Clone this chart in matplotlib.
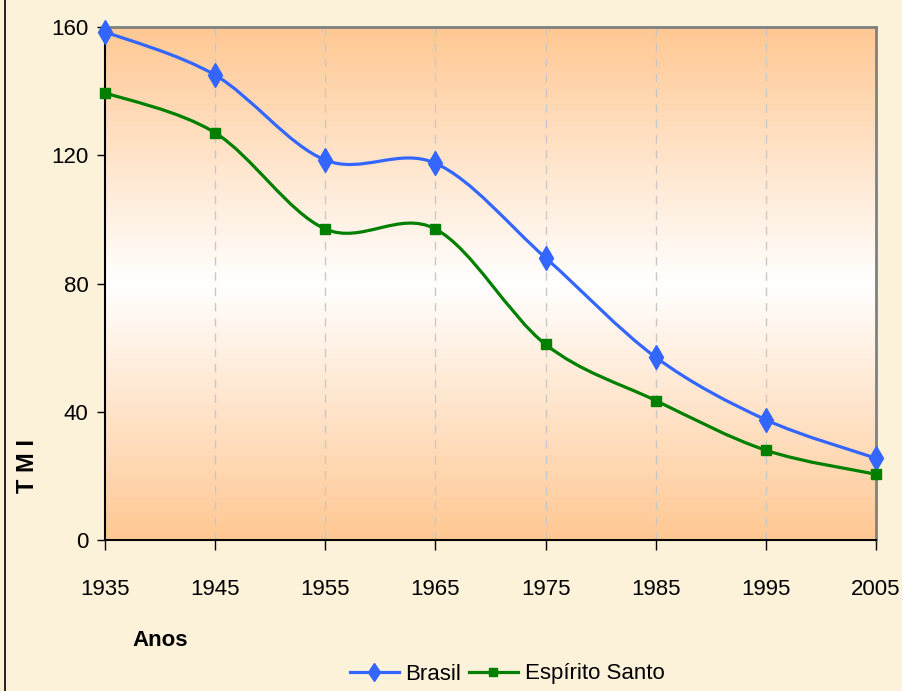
import numpy as np
import matplotlib
matplotlib.use("Agg")
import matplotlib.pyplot as plt
from matplotlib.path import Path
from matplotlib.patches import PathPatch
from matplotlib.lines import Line2D
from matplotlib.colors import LinearSegmentedColormap

plt.rcParams['font.family'] = ['Liberation Sans Narrow', 'Liberation Sans', 'DejaVu Sans']

anos = [1935, 1945, 1955, 1965, 1975, 1985, 1995, 2005]
brasil = [158.5, 145, 118.5, 117.5, 88, 57, 37.5, 25.5]
espirito_santo = [139.5, 127, 97, 97, 61, 43.5, 28, 20.5]
series_names = ["Brasil", "Espírito Santo"]


def smooth_path(xs, ys):
    # Excel-like smoothed line: cubic Bezier segments (Catmull-Rom control points)
    pts = np.column_stack([xs, ys]).astype(float)
    verts = [pts[0]]
    codes = [Path.MOVETO]
    n = len(pts)
    for i in range(n - 1):
        p0 = pts[max(i - 1, 0)]
        p1 = pts[i]
        p2 = pts[i + 1]
        p3 = pts[min(i + 2, n - 1)]
        c1 = p1 + (p2 - p0) / 6
        c2 = p2 - (p3 - p1) / 6
        verts += [c1, c2, p2]
        codes += [Path.CURVE4] * 3
    return Path(verts, codes)


bg = '#FCF1D9'
fig = plt.figure(figsize=(9.03, 6.91), dpi=100, facecolor=bg)
ax = fig.add_axes([105 / 903, 1 - 540 / 691, 771 / 903, 513 / 691])

# gradient plot area
cmap = LinearSegmentedColormap.from_list('grad', ['#FFC893', '#FFFFFF', '#FFC893'])
grad = np.linspace(0, 1, 256).reshape(-1, 1)
ax.imshow(grad, aspect='auto', cmap=cmap, extent=[0, 1, 0, 1],
          transform=ax.transAxes, zorder=0)

ax.set_xlim(1935, 2005)
ax.set_ylim(0, 160)

for x in anos[1:-1]:
    ax.axvline(x, color='#C8C8C8', lw=1, ls=(0, (6, 5)), zorder=1)

colors = ['#3366FF', '#008000']
markers = ['d', 's']
msizes = [12, 7]
for vals, c, m, ms in zip([brasil, espirito_santo], colors, markers, msizes):
    ax.add_patch(PathPatch(smooth_path(anos, vals), facecolor='none',
                           edgecolor=c, lw=2.3, zorder=3, clip_on=False))
    ax.plot(anos, vals, ls='none', marker=m, ms=ms, color=c, zorder=4, clip_on=False)

ax.set_xticks(anos)
ax.set_yticks([0, 40, 80, 120, 160])
ax.tick_params(axis='x', length=7, width=1, pad=21, labelsize=16, direction='out')
ax.tick_params(axis='y', length=6, width=1, pad=6, labelsize=16, direction='out')

ax.spines['top'].set_color('#808080')
ax.spines['right'].set_color('#808080')
ax.spines['top'].set_linewidth(2)
ax.spines['right'].set_linewidth(2)
ax.spines['left'].set_color('black')
ax.spines['bottom'].set_color('black')
ax.spines['left'].set_linewidth(1.5)
ax.spines['bottom'].set_linewidth(1.5)

fig.text(28 / 903, 1 - 466 / 691, "T M I", rotation=90, ha='center', va='center',
         fontsize=17, fontweight='bold')
fig.text(160 / 903, 1 - 640 / 691, "Anos", ha='center', va='center',
         fontsize=16, fontweight='bold')

handles = [Line2D([], [], color=c, lw=2.3, marker=m, ms=ms * 0.8)
           for c, m, ms in zip(colors, markers, msizes)]
fig.legend(handles, series_names, loc='center', bbox_to_anchor=(507 / 903, 1 - 674 / 691),
           ncol=2, frameon=False, fontsize=16, handlelength=2.2, handletextpad=0.3,
           columnspacing=0.35, borderpad=0)

# outer left border line
fig.add_artist(Line2D([5 / 903, 5 / 903], [0, 1], color='black', lw=1.2))

fig.savefig("out.png", dpi=100, facecolor=bg)
